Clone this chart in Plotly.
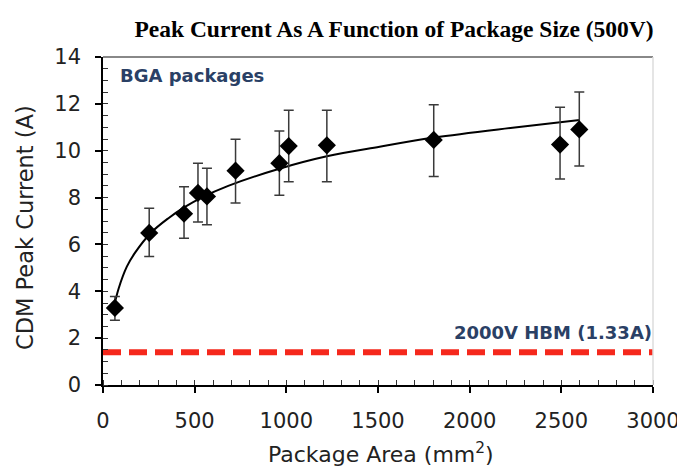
import plotly.graph_objects as go

# measured data points (package area mm^2, CDM peak current A)
area = [65, 252, 442, 518, 567, 723, 962, 1013, 1221, 1804, 2493, 2598]
current = [3.29, 6.49, 7.31, 8.20, 8.05, 9.15, 9.47, 10.20, 10.23, 10.46, 10.26, 10.91]
err_plus = [0.49, 1.05, 1.15, 1.27, 1.20, 1.34, 1.37, 1.53, 1.50, 1.50, 1.59, 1.60]
err_minus = [0.53, 1.01, 1.05, 1.24, 1.21, 1.38, 1.37, 1.53, 1.56, 1.56, 1.47, 1.56]

# trend curve
fit_x = [60, 85, 130, 176, 262, 357, 447, 538, 683, 962, 1221, 1509, 1808, 2234, 2600]
fit_y = [3.35, 4.11, 5.05, 5.66, 6.50, 7.12, 7.60, 8.00, 8.50, 9.23, 9.76, 10.17, 10.56, 10.98, 11.31]

# HBM reference level
hbm_x = [0, 3000]
hbm_y = [1.40, 1.40]

x_ticks = [0, 500, 1000, 1500, 2000, 2500, 3000]
y_ticks = [0, 2, 4, 6, 8, 10, 12, 14]

title_text = "Peak Current As A Function of Package Size (500V)"
bga_text = "BGA packages"
hbm_text = "2000V HBM (1.33A)"
x_title = "Package Area (mm<sup>2</sup>)"
y_title = "CDM Peak Current (A)"

OFF = 8  # page body margin
L, R, T, B = 103 - OFF, 653 - OFF, 57 - OFF, 385 - OFF

fig = go.Figure()

fig.add_trace(go.Scatter(
    x=hbm_x, y=hbm_y, mode="lines",
    line=dict(color="#f5281c", width=6, dash="18px,8px"),
    hoverinfo="skip", showlegend=False))

fig.add_trace(go.Scatter(
    x=fit_x, y=fit_y, mode="lines", line_shape="spline",
    line=dict(color="black", width=2), showlegend=False))

fig.add_trace(go.Scatter(
    x=area, y=current, mode="markers",
    marker=dict(symbol="diamond", size=14, color="black"),
    error_y=dict(type="data", symmetric=False, array=err_plus, arrayminus=err_minus,
                 color="#3a3a3a", thickness=1.5, width=5),
    showlegend=False))

axis_font = dict(family="DejaVu Sans", size=21, color="#222")

fig.update_layout(
    width=685, height=473,
    margin=dict(l=L, r=685 - R, t=T, b=473 - B, autoexpand=False),
    paper_bgcolor="white", plot_bgcolor="white",
    title=dict(text=title_text, x=(394 - OFF) / 685, xanchor="center", y=1 - (29 - OFF) / 473,
               yanchor="middle",
               font=dict(family="Liberation Serif", size=23.5, color="black", weight="bold")),
    xaxis=dict(range=[0, 3000], tickvals=x_ticks, ticks="outside", ticklen=6, tickwidth=1.5,
               tickcolor="black", showline=True, linecolor="black", linewidth=1.5, automargin=False,
               showgrid=False, zeroline=False, tickfont=axis_font, ticklabelstandoff=10,
               minor=dict(dtick=100, ticks="inside", ticklen=5, tickcolor="#333", tickwidth=1)),
    yaxis=dict(range=[0, 14], tickvals=y_ticks, ticks="outside", ticklen=6, tickwidth=1.5,
               tickcolor="black", showline=True, linecolor="black", linewidth=1.5, automargin=False,
               showgrid=False, zeroline=False, tickfont=axis_font, ticklabelstandoff=10,
               minor=dict(dtick=0.5, ticks="inside", ticklen=5, tickcolor="#333", tickwidth=1)),
    shapes=[
        dict(type="line", xref="paper", yref="paper", x0=0, x1=1, y0=1, y1=1,
             line=dict(color="#888", width=2)),
        dict(type="line", xref="paper", yref="paper", x0=1, x1=1, y0=0, y1=1,
             line=dict(color="#ddd", width=1.5)),
    ],
    annotations=[
        dict(text=bga_text, x=82, y=13.2, xref="x", yref="y", xanchor="left", yanchor="middle",
             showarrow=False, font=dict(family="DejaVu Sans", size=18, color="#2a4065", weight="bold")),
        dict(text=hbm_text, x=1, y=2.22, xref="paper", yref="y", xanchor="right", yanchor="middle",
             xshift=1, showarrow=False,
             font=dict(family="DejaVu Sans", size=18, color="#2a4065", weight="bold")),
        dict(text=x_title, x=(381 - 103) / 550, y=-(453 - 385) / 328,
             xref="paper", yref="paper",
             xanchor="center", yanchor="middle", showarrow=False,
             font=dict(family="DejaVu Sans", size=22, color="#222")),
        dict(text=y_title, x=-(103 - 25) / 550, y=(385 - 228) / 328, xref="paper", yref="paper",
             xanchor="center", yanchor="middle", textangle=-90, showarrow=False,
             font=dict(family="DejaVu Sans", size=22.5, color="#222")),
    ],
)

fig.write_html("out.html")
